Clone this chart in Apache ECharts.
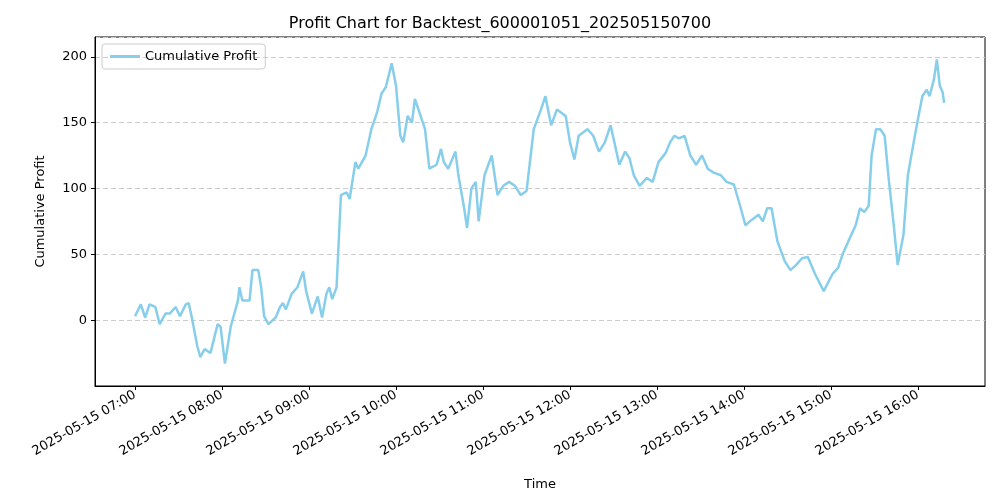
<!DOCTYPE html><html><head><meta charset="utf-8"><script src="https://cdn.jsdelivr.net/npm/echarts@6/dist/echarts.min.js"></script></head><body style="margin:0"><div id="c" style="width:1000px;height:500px"></div><script>
const minutes=[0,4,7,10,14,17,21,24,28,31,35,37,39,43,45,48,52,57,59,62,66,71,72,74,79,81,85,87,89,92,97,100,102,104,108,112,116,118,122,126,129,132,134,136,139,142,146,148,152,154,159,163,167,170,173,177,180,183,185,188,191,193,197,200,203,208,211,213,216,221,223,227,229,232,235,237,241,246,250,254,258,262,266,270,275,280,283,287,291,297,300,303,306,312,316,320,324,328,330,334,338,341,344,348,353,357,361,366,369,372,375,379,383,387,391,395,399,404,408,413,417,421,424,430,433,436,439,443,448,452,456,460,464,469,475,481,485,488,492,497,500,503,506,508,511,514,517,520,523,526,530,533,537,540,543,546,548,551,553,555,557,558];
const profit=[3,12,2,12,10,-3,5,5,10,3,12,13,3,-20,-28,-22,-25,-3,-5,-33,-5,15,25,15,15,38,38,25,3,-3,2,10,13,8,20,25,37,22,5,18,2,20,25,16,25,95,97,92,120,115,125,145,158,172,177,195,178,140,135,155,150,168,155,145,115,118,130,120,115,128,110,85,70,100,105,75,110,125,95,102,105,102,95,98,145,160,170,148,160,155,135,122,140,145,140,128,135,148,138,118,128,123,110,102,108,105,120,127,135,140,138,140,125,118,125,115,112,110,105,103,88,72,75,80,75,85,85,60,45,38,42,47,48,35,22,35,40,50,60,72,85,82,87,125,145,145,140,105,75,42,65,110,135,153,170,175,170,183,198,178,173,165];
const base=Date.UTC(2025,4,15,7,0,0);
const data=minutes.map((m,i)=>[base+m*60000,profit[i]]);
const pad=n=>String(n).padStart(2,'0');
const fmt=v=>{const d=new Date(v);return d.getUTCFullYear()+'-'+pad(d.getUTCMonth()+1)+'-'+pad(d.getUTCDate())+' '+pad(d.getUTCHours())+':'+pad(d.getUTCMinutes());};
const ch=echarts.init(document.getElementById('c'));
const F='DejaVu Sans';
ch.setOption({animation:false,useUTC:true,textStyle:{fontFamily:F},
title:{text:'Profit Chart for Backtest_600001051_202505150700',left:'center',top:11,textStyle:{fontFamily:F,fontSize:16,fontWeight:'normal',color:'#000'}},
legend:{left:102,top:44,itemWidth:30,itemHeight:3,borderColor:'#ccc',borderWidth:1,borderRadius:3,padding:[6,8],textStyle:{fontFamily:F,fontSize:13,color:'#000'},icon:'rect',data:['Cumulative Profit']},
grid:{left:95,right:15,top:37,bottom:114,show:true,borderColor:'#000',borderWidth:1,containLabel:false},
xAxis:{type:'time',min:base-27.6*60000,max:base+586.2*60000,interval:3600000,name:'Time',nameLocation:'middle',nameGap:92,nameTextStyle:{fontFamily:F,fontSize:13,color:'#000'},
axisLine:{onZero:false,lineStyle:{color:'#000'}},axisTick:{show:true,length:4,lineStyle:{color:'#000'}},splitLine:{show:false},
axisLabel:{rotate:30,fontFamily:F,fontSize:13,color:'#000',formatter:v=>fmt(v),showMinLabel:false,showMaxLabel:false,hideOverlap:false}},
yAxis:{type:'value',min:-50,max:215,interval:50,name:'Cumulative Profit',nameLocation:'middle',nameGap:48,nameTextStyle:{fontFamily:F,fontSize:13,color:'#000'},
axisLine:{show:true,lineStyle:{color:'#000'}},axisTick:{show:true,length:4,lineStyle:{color:'#000'}},
axisLabel:{fontFamily:F,fontSize:13,color:'#000',showMinLabel:false,showMaxLabel:false},
splitLine:{lineStyle:{type:[5,3],color:'#ccc'}}},
series:[{name:'Cumulative Profit',type:'line',data:data,showSymbol:false,lineStyle:{color:'#87ceeb',width:2.5},itemStyle:{color:'#87ceeb'}}]});
</script></body></html>
